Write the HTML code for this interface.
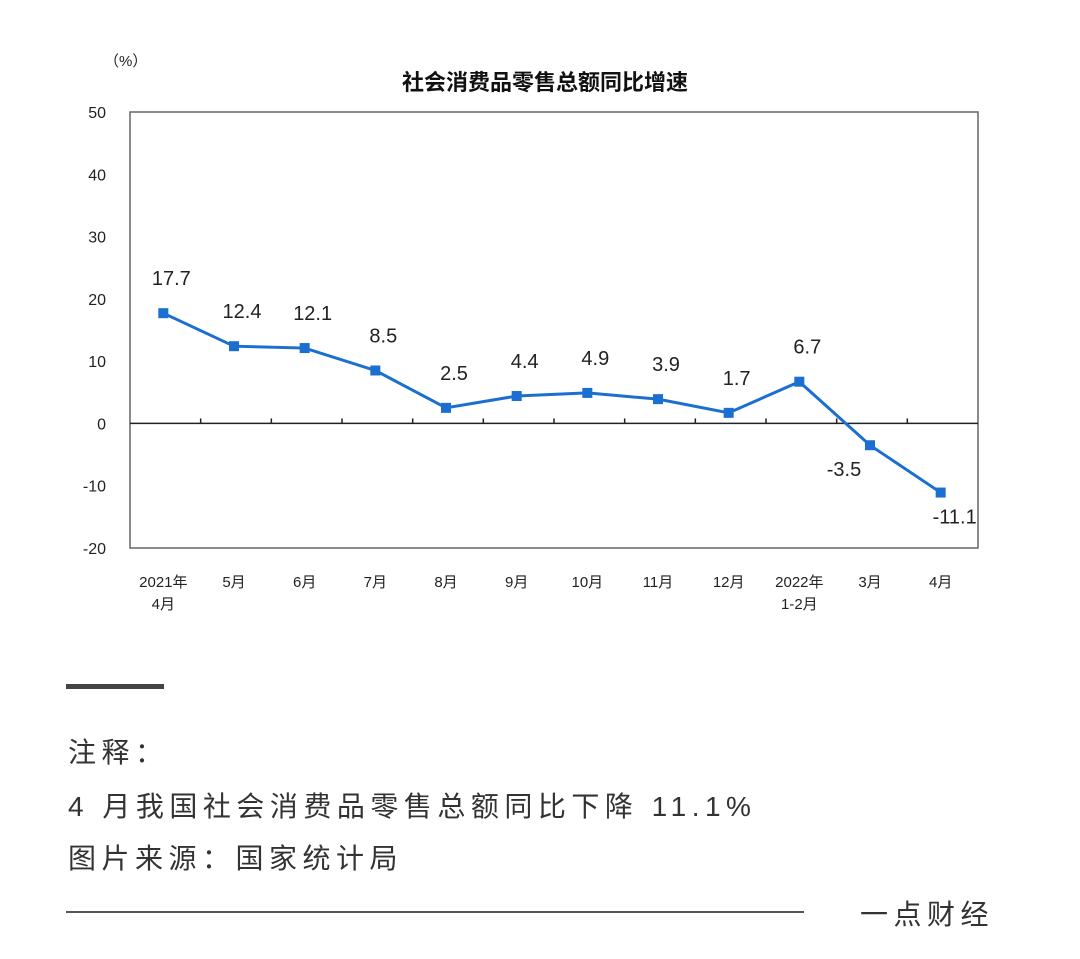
<!DOCTYPE html>
<html><head><meta charset="utf-8"><style>
body{margin:0;background:#fff;width:1080px;height:959px;overflow:hidden;font-family:"Liberation Sans","Noto Sans CJK SC",sans-serif;}
.t{position:absolute;color:#333;font-size:28px;letter-spacing:5.5px;white-space:nowrap;}
</style></head><body>
<svg id="chart" width="1080" height="660" style="position:absolute;left:0;top:0" font-family="Liberation Sans, Noto Sans CJK SC, sans-serif">
<text x="545" y="90" text-anchor="middle" font-size="22" font-weight="bold" fill="#111">社会消费品零售总额同比增速</text>
<text x="104" y="66" font-size="15" fill="#222">（%）</text>
<rect x="130" y="112" width="848" height="436" fill="none" stroke="#666" stroke-width="1.5"/>
<g id="g"></g>
</svg>
<div style="position:absolute;left:66px;top:684px;width:98px;height:5px;background:#444"></div>
<div class="t" style="left:68px;top:731px">注释：</div>
<div class="t" style="left:68px;top:785px">4 月我国社会消费品零售总额同比下降 11.1%</div>
<div class="t" style="left:68px;top:837px">图片来源：国家统计局</div>
<div style="position:absolute;left:66px;top:911px;width:738px;height:2px;background:#555"></div>
<div class="t" style="left:860px;top:893px">一点财经</div>
<script>
const categories=[["2021年","4月"],["5月"],["6月"],["7月"],["8月"],["9月"],["10月"],["11月"],["12月"],["2022年","1-2月"],["3月"],["4月"]];
const values=[17.7,12.4,12.1,8.5,2.5,4.4,4.9,3.9,1.7,6.7,-3.5,-11.1];
const yTicks=[50,40,30,20,10,0,-10,-20];
const X0=130,X1=978,Y0=112,Y1=548,yMax=50,yMin=-20;
const bw=(X1-X0)/categories.length;
const x=i=>X0+bw*(i+0.5)-2;
const y=v=>Y0+(yMax-v)/(yMax-yMin)*(Y1-Y0);
const g=document.getElementById('g');
const NS='http://www.w3.org/2000/svg';
function mk(t,a){const e=document.createElementNS(NS,t);for(const k in a)e.setAttribute(k,a[k]);g.appendChild(e);return e;}
yTicks.forEach(v=>{
 const t=mk('text',{x:106,y:y(v)+6,'text-anchor':'end','font-size':16,fill:'#222'});t.textContent=v;
 
 
});
const ax=mk('line',{x1:X0,x2:X1,y1:y(0),y2:y(0),stroke:'#222','stroke-width':1.5});


for(let i=1;i<categories.length;i++){
 const tk=mk('line',{x1:X0+bw*i,x2:X0+bw*i,y1:y(0),y2:y(0)-5,stroke:'#222','stroke-width':1.5});
 
 
}
categories.forEach((c,i)=>{
 c.forEach((s,j)=>{
  const t=mk('text',{x:x(i),y:587+j*22,'text-anchor':'middle','font-size':15,fill:'#222'});t.textContent=s;
  
  
 });
});
const ln=mk('polyline',{points:values.map((v,i)=>x(i)+','+y(v)).join(' '),fill:'none',stroke:'#1a6fd0','stroke-width':3});


values.forEach((v,i)=>{
 const r=mk('rect',{x:x(i)-5,y:y(v)-5,width:10,height:10,fill:'#1a6fd0'});
 
 
 let dx=8,dy=-28;
 if(v<0){dy=31;dx=(i===values.length-1)?14:-26;}
 const t=mk('text',{x:x(i)+dx,y:y(v)+dy,'text-anchor':'middle','font-size':20,fill:'#222'});t.textContent=v;
 
 
});
</script>
</body></html>
